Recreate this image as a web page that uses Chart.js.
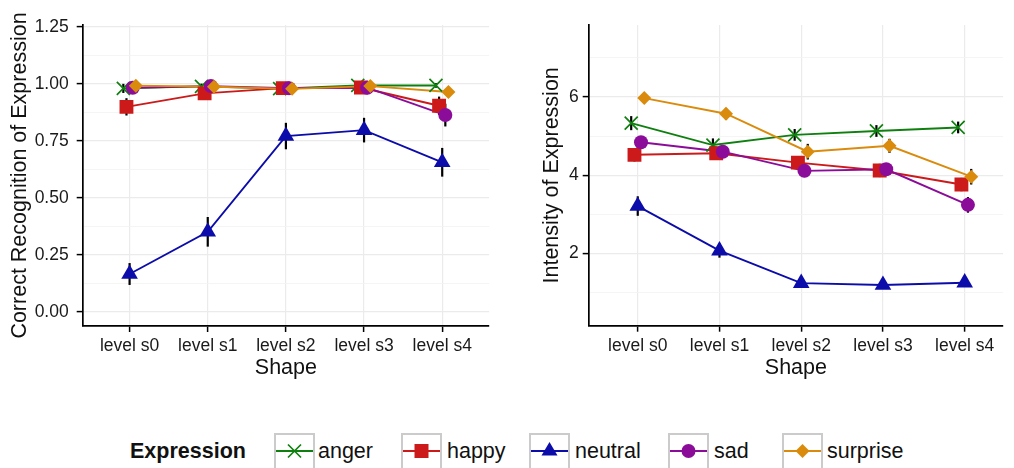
<!DOCTYPE html>
<html><head><meta charset="utf-8">
<script src="https://cdn.jsdelivr.net/npm/chart.js@4.4.0/dist/chart.umd.min.js"></script>
<style>
html,body{margin:0;padding:0;background:#fff;width:1014px;height:468px;overflow:hidden;font-family:"Liberation Sans",Arial,sans-serif;}
#c1{position:absolute;left:0;top:0;}
#c2{position:absolute;left:500px;top:0;}
.lt{position:absolute;top:438px;height:26px;line-height:26px;font-size:21.5px;color:#111;white-space:nowrap;}
.lbox{position:absolute;top:433px;width:37px;height:60px;border:2px solid #cbcbcb;}
.lbox svg{position:absolute;left:0;top:0;}
</style></head><body>
<canvas id="c1" width="500" height="400"></canvas>
<canvas id="c2" width="514" height="400"></canvas>
<div id="legend"></div>
<script>
// ---- data ----
const categories = ['level s0','level s1','level s2','level s3','level s4'];
const expressions = ['anger','happy','neutral','sad','surprise'];

// Correct recognition (left panel)
const recogAnger    = [0.981, 0.990, 0.980, 0.994, 0.994];
const recogHappy    = [0.900, 0.959, 0.982, 0.985, 0.905];
const recogNeutral  = [0.167, 0.352, 0.772, 0.798, 0.657];
const recogSad      = [0.984, 0.991, 0.982, 0.984, 0.864];
const recogSurprise = [0.993, 0.988, 0.979, 0.991, 0.965];
const recogAngerErr    = [0.020, 0.012, 0.010, 0.010, 0.010];
const recogHappyErr    = [0.038, 0.020, 0.012, 0.012, 0.040];
const recogNeutralErr  = [0.048, 0.065, 0.058, 0.054, 0.063];
const recogSadErr      = [0.012, 0.012, 0.010, 0.012, 0.050];
const recogSurpriseErr = [0.010, 0.010, 0.010, 0.010, 0.012];

// Intensity (right panel)
const intAnger    = [5.33, 4.77, 5.03, 5.13, 5.22];
const intHappy    = [4.52, 4.56, 4.32, 4.12, 3.76];
const intNeutral  = [3.21, 2.07, 1.24, 1.19, 1.25];
const intSad      = [4.84, 4.60, 4.11, 4.15, 3.24];
const intSurprise = [5.97, 5.57, 4.60, 4.75, 3.96];
const intAngerErr    = [0.18, 0.17, 0.15, 0.15, 0.15];
const intHappyErr    = [0.17, 0.17, 0.17, 0.17, 0.17];
const intNeutralErr  = [0.25, 0.18, 0.10, 0.10, 0.10];
const intSadErr      = [0.16, 0.16, 0.16, 0.16, 0.20];
const intSurpriseErr = [0.13, 0.15, 0.20, 0.18, 0.20];

// tick labels
const leftMajorTicks  = [0, 0.25, 0.5, 0.75, 1.0, 1.25];
const leftTickLabels  = ['0.00','0.25','0.50','0.75','1.00','1.25'];
const leftMinorTicks  = [0.125, 0.375, 0.625, 0.875, 1.125];
const rightMajorTicks = [2, 4, 6];
const rightTickLabels = ['2','4','6'];
const rightMinorTicks = [1, 3, 5, 7];

// ---- styles ----
const colors = ['#0f800f','#cc1a1a','#0c0caa','#8c0c9a','#da8b0c'];
const pointStyles = ['crossRot','rect','triangle','circle','rectRot'];
const pointRadii = [9.2, 9.8, 9.6, 7.0, 7.0];
const dodge = [-0.08, -0.04, 0, 0.04, 0.08];

const FONT = '"Liberation Sans", Arial, sans-serif';

const errorBarPlugin = {
  id: 'errbars',
  beforeDatasetsDraw(chart) {
    const ctx = chart.ctx;
    const xs = chart.scales.x, ys = chart.scales.y;
    ctx.save();
    ctx.strokeStyle = '#000';
    ctx.lineWidth = 2.2;
    chart.data.datasets.forEach(ds => {
      if (!ds.err) return;
      ds.data.forEach((p, i) => {
        const px = xs.getPixelForValue(p.x);
        ctx.beginPath();
        ctx.moveTo(px, ys.getPixelForValue(p.y - ds.err[i]));
        ctx.lineTo(px, ys.getPixelForValue(p.y + ds.err[i]));
        ctx.stroke();
      });
    });
    ctx.restore();
  }
};

function buildDatasets(seriesList, errList) {
  const lines = [], points = [];
  seriesList.forEach((vals, s) => {
    const data = vals.map((v, i) => ({x: i + dodge[s], y: v}));
    lines.push({
      label: expressions[s] + ' line', data, showLine: true,
      borderColor: colors[s], borderWidth: 1.9, pointRadius: 0,
      fill: false, order: 30 - s
    });
    points.push({
      label: expressions[s], data, showLine: false, err: errList[s],
      pointStyle: pointStyles[s], pointRadius: pointRadii[s],
      pointHoverRadius: pointRadii[s],
      backgroundColor: colors[s], borderColor: colors[s],
      pointBorderWidth: s === 0 ? 1.7 : 0, borderWidth: s === 0 ? 1.7 : 0,
      order: 20 - s
    });
  });
  return lines.concat(points);
}

function makeChart(id, cfg) {
  const majors = cfg.major, minors = cfg.minor;
  const allTicks = majors.concat(minors).sort((a, b) => a - b);
  const isMajor = v => majors.some(m => Math.abs(m - v) < 1e-9);
  return new Chart(document.getElementById(id), {
    type: 'scatter',
    data: { datasets: buildDatasets(cfg.series, cfg.errs) },
    options: {
      responsive: false, animation: false, devicePixelRatio: 1,
      layout: { padding: { left: 0, top: 25, right: cfg.padRight, bottom: 0 } },
      plugins: { legend: { display: false }, tooltip: { enabled: false } },
      scales: {
        x: {
          type: 'linear', min: -0.6, max: cfg.xMax,
          afterBuildTicks: ax => { ax.ticks = categories.map((c, i) => ({ value: i })); },
          afterFit: ax => { ax.height = cfg.xHeight; },
          ticks: {
            autoSkip: false, maxRotation: 0, minRotation: 0, padding: 4,
            color: '#1a1a1a', font: { family: FONT, size: 17.5 },
            callback: v => categories[Math.round(v)]
          },
          grid: { color: '#ebebeb', lineWidth: 1.2, tickColor: '#000', tickWidth: 1.5, tickLength: 6 },
          border: { color: '#000', width: 1.7 },
          title: { display: true, text: 'Shape', color: '#111', font: { family: FONT, size: 21.5 }, padding: { top: 0, bottom: 19 } }
        },
        y: {
          type: 'linear', min: cfg.yMin, max: cfg.yMax,
          afterBuildTicks: ax => { ax.ticks = allTicks.map(v => ({ value: v })); },
          afterFit: ax => { ax.width = cfg.yWidth; },
          ticks: {
            autoSkip: false, padding: cfg.yTickPad,
            color: '#1a1a1a', font: { family: FONT, size: 17.5 },
            callback: v => { const i = majors.findIndex(m => Math.abs(m - v) < 1e-9); return i >= 0 ? cfg.labels[i] : ''; }
          },
          grid: {
            color: c => isMajor(c.tick.value) ? '#ebebeb' : '#f2f2f2',
            lineWidth: c => isMajor(c.tick.value) ? 1.2 : 0.8,
            tickColor: c => isMajor(c.tick.value) ? '#000' : 'rgba(0,0,0,0)',
            tickWidth: 1.5, tickLength: 6
          },
          border: { color: '#000', width: 1.7 },
          title: { display: true, text: cfg.yTitle, color: '#111', font: { family: FONT, size: 21.5 }, padding: { top: cfg.yTitlePad, bottom: 0 } }
        }
      }
    },
    plugins: [errorBarPlugin]
  });
}

makeChart('c1', {
  series: [recogAnger, recogHappy, recogNeutral, recogSad, recogSurprise],
  errs: [recogAngerErr, recogHappyErr, recogNeutralErr, recogSadErr, recogSurpriseErr],
  major: leftMajorTicks, minor: leftMinorTicks, labels: leftTickLabels,
  yMin: -0.061, yMax: 1.259, xMax: 4.6, padRight: 7.3,
  yWidth: 82.7, xHeight: 74, yTickPad: 8, yTitlePad: 7,
  yTitle: 'Correct Recognition of Expression'
});
makeChart('c2', {
  series: [intAnger, intHappy, intNeutral, intSad, intSurprise],
  errs: [intAngerErr, intHappyErr, intNeutralErr, intSadErr, intSurpriseErr],
  major: rightMajorTicks, minor: rightMinorTicks, labels: rightTickLabels,
  yMin: 0.15, yMax: 7.84, xMax: 4.47, padRight: 0.7,
  yWidth: 88.7, xHeight: 74.3, yTickPad: 4, yTitlePad: 38.8,
  yTitle: 'Intensity of Expression'
});

// ---- legend ----
const legendBoxX = [273.7, 401, 529, 667.5, 782];
const legendTextX = [318, 447, 575, 714, 827];
function markerSvg(s) {
  const c = colors[s], cx = 18.5, cy = 16;
  let m = '';
  if (s === 0) m = `<path d="M${cx-6.5},${cy-6.5}L${cx+6.5},${cy+6.5}M${cx-6.5},${cy+6.5}L${cx+6.5},${cy-6.5}" stroke="${c}" stroke-width="1.7" fill="none"/>`;
  if (s === 1) m = `<rect x="${cx-7}" y="${cy-7}" width="14" height="14" fill="${c}"/>`;
  if (s === 2) m = `<polygon points="${cx},${cy-9} ${cx+8},${cy+4.6} ${cx-8},${cy+4.6}" fill="${c}"/>`;
  if (s === 3) m = `<circle cx="${cx}" cy="${cy}" r="7" fill="${c}"/>`;
  if (s === 4) m = `<polygon points="${cx},${cy-7} ${cx+7},${cy} ${cx},${cy+7} ${cx-7},${cy}" fill="${c}"/>`;
  return `<svg width="37" height="40" xmlns="http://www.w3.org/2000/svg"><line x1="0" y1="${cy}" x2="37" y2="${cy}" stroke="${c}" stroke-width="1.9"/>${m}</svg>`;
}
let html = `<div class="lt" style="left:130px;font-weight:bold;">Expression</div>`;
expressions.forEach((e, s) => {
  html += `<div class="lbox" style="left:${legendBoxX[s]}px">${markerSvg(s)}</div>`;
  html += `<div class="lt" style="left:${legendTextX[s]}px">${e}</div>`;
});
document.getElementById('legend').innerHTML = html;
</script>
</body></html>
